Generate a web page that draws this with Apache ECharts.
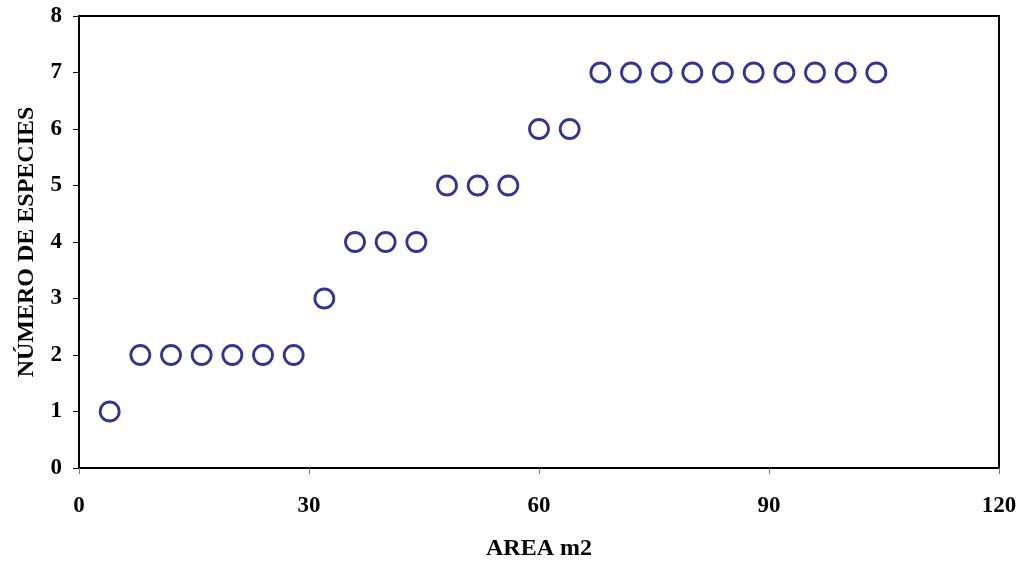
<!DOCTYPE html>
<html>
<head>
<meta charset="utf-8">
<script src="https://cdn.jsdelivr.net/npm/echarts@6/dist/echarts.min.js"></script>
<style>
  html, body { margin: 0; padding: 0; background: #fff; }
  #chart { width: 1023px; height: 562px; }
</style>
</head>
<body>
<div id="chart"></div>
<script>
// Species-area curve: number of species found vs sampled area
const areas = [4, 8, 12, 16, 20, 24, 28, 32, 36, 40, 44, 48, 52, 56, 60, 64, 68, 72, 76, 80, 84, 88, 92, 96, 100, 104];
const species = [1, 2, 2, 2, 2, 2, 2, 3, 4, 4, 4, 5, 5, 5, 6, 6, 7, 7, 7, 7, 7, 7, 7, 7, 7, 7];
const xTitle = 'AREA m2';
const yTitle = 'NÚMERO DE ESPECIES';

const points = areas.map((a, i) => [a, species[i]]);
const font = '"Liberation Serif", "Times New Roman", serif';

const chart = echarts.init(document.getElementById('chart'));
chart.setOption({
  animation: false,
  backgroundColor: '#fff',
  grid: {
    left: 79, right: 24, top: 16, bottom: 94,
    outerBoundsMode: 'none', containLabel: false,
    show: true, borderColor: '#000', borderWidth: 2, backgroundColor: 'transparent'
  },
  xAxis: {
    type: 'value', min: 0, max: 120, interval: 30,
    name: xTitle, nameLocation: 'middle', nameGap: 69,
    nameTextStyle: { fontFamily: font, fontWeight: 'bold', fontSize: 24, color: '#000' },
    axisLine: { show: true, onZero: false, lineStyle: { color: '#000', width: 2 } },
    axisTick: { show: true, length: 6, lineStyle: { color: '#777', width: 1 } },
    axisLabel: { fontFamily: font, fontWeight: 'bold', fontSize: 23, color: '#000', margin: 27 },
    splitLine: { show: false }
  },
  yAxis: {
    type: 'value', min: 0, max: 8, interval: 1,
    name: yTitle, nameLocation: 'middle', nameGap: 40, nameRotate: 90,
    nameTextStyle: { fontFamily: font, fontWeight: 'bold', fontSize: 24, color: '#000' },
    axisLine: { show: true, onZero: false, lineStyle: { color: '#000', width: 2 } },
    axisTick: { show: true, length: 6, lineStyle: { color: '#000', width: 1 } },
    axisLabel: { fontFamily: font, fontWeight: 'bold', fontSize: 23, color: '#000', margin: 17 },
    splitLine: { show: false }
  },
  series: [{
    type: 'scatter',
    data: points,
    symbol: 'circle',
    symbolSize: 19,
    itemStyle: { color: '#fff', borderColor: '#000078', borderWidth: 2.8 }
  }]
});
</script>
</body>
</html>
